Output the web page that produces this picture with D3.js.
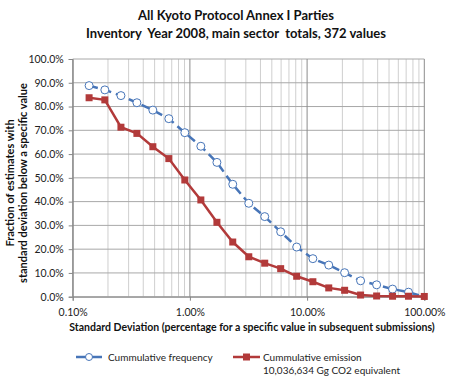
<!DOCTYPE html>
<html>
<head>
<meta charset="utf-8">
<script src="https://cdn.jsdelivr.net/npm/d3@7"></script>
<style>
  body { margin: 0; background: #fff; }
  svg { display: block; font-family: Lato, "Open Sans", sans-serif; }
</style>
</head>
<body>
<svg id="chart" width="471" height="385"></svg>
<script>
// ── data ─────────────────────────────────────────────────────────────────────
const sdValues = [0.138, 0.188, 0.258, 0.353, 0.483, 0.661, 0.905, 1.24, 1.70, 2.32, 3.18,
                  4.35, 5.95, 8.15, 11.2, 15.3, 20.9, 28.6, 39.2, 53.6, 73.3, 100];
const cumFrequency = [88.8, 87.0, 84.6, 81.6, 78.5, 74.9, 69.0, 63.3, 56.5, 47.3, 39.3,
                      33.7, 27.3, 20.9, 16.0, 13.3, 10.1, 6.7, 5.0, 3.2, 1.9, 0];
const cumEmission = [83.7, 82.8, 71.3, 68.7, 63.1, 58.1, 49.1, 40.7, 31.3, 23.0, 16.8,
                     14.1, 11.8, 8.6, 6.3, 3.7, 2.7, 0.7, 0.3, 0.2, 0.2, 0.1];
const xTicks = [0.1, 1, 10, 100];
const yTicks = [0, 10, 20, 30, 40, 50, 60, 70, 80, 90, 100];
const titleLines = ['All Kyoto Protocol Annex I Parties',
                    'Inventory  Year 2008, main sector  totals, 372 values'];
const yTitleLines = ['Fraction of estimates with', 'standard deviation below a specific value'];
const xTitle = 'Standard Deviation (percentage for a specific value in subsequent submissions)';
const seriesNames = ['Cummulative frequency', 'Cummulative emission', '10,036,634 Gg CO2 equivalent'];

// ── layout ───────────────────────────────────────────────────────────────────
const blue = '#4775b8', red = '#b23a3a';
const svg = d3.select('#chart');
const x = d3.scaleLog().domain([0.1, 100]).range([72.7, 424.3]);
const y = d3.scaleLinear().domain([0, 100]).range([296.7, 59]);

// ── grid ─────────────────────────────────────────────────────────────────────
const grid = svg.append('g');
const minorTicks = x.ticks().filter(t => !xTicks.includes(t));
grid.selectAll('.minor').data(minorTicks).join('line')
  .attr('x1', d => x(d)).attr('x2', d => x(d))
  .attr('y1', y(0)).attr('y2', y(100))
  .attr('stroke', '#cfcfcf').attr('stroke-width', 1);
grid.selectAll('.hgrid').data(yTicks).join('line')
  .attr('x1', x(0.1)).attr('x2', x(100))
  .attr('y1', d => y(d)).attr('y2', d => y(d))
  .attr('stroke', '#a8a8a8').attr('stroke-width', 1);
grid.selectAll('.major').data(xTicks).join('line')
  .attr('x1', d => x(d)).attr('x2', d => x(d))
  .attr('y1', y(0)).attr('y2', y(100))
  .attr('stroke', '#8c8c8c').attr('stroke-width', 1);

// ── axes ─────────────────────────────────────────────────────────────────────
const yAxis = svg.append('g')
  .attr('transform', `translate(${x(0.1)},0)`)
  .call(d3.axisLeft(y).tickValues(yTicks).tickSize(4).tickPadding(5)
    .tickFormat(d => d.toFixed(1) + '%'));
const xAxis = svg.append('g')
  .attr('transform', `translate(0,${y(0)})`)
  .call(d3.axisBottom(x).tickValues(xTicks).tickSize(4).tickPadding(8)
    .tickFormat(d => d.toFixed(2) + '%'));
[yAxis, xAxis].forEach(a => {
  a.select('.domain').attr('stroke', '#868686');
  a.selectAll('.tick line').attr('stroke', '#868686');
  a.selectAll('text').attr('font-family', 'Lato, sans-serif')
    .attr('font-size', 10.5).attr('fill', '#222');
});

// ── series ───────────────────────────────────────────────────────────────────
const line = d3.line().x(d => x(d[0])).y(d => y(d[1]));
const freqPts = sdValues.map((v, i) => [v, cumFrequency[i]]);
const emisPts = sdValues.map((v, i) => [v, cumEmission[i]]);

svg.append('path').datum(freqPts).attr('d', line)
  .attr('fill', 'none').attr('stroke', blue).attr('stroke-width', 2.5)
  .attr('stroke-dasharray', '9,5');
svg.append('g').selectAll('circle').data(freqPts.slice(0, -1)).join('circle')
  .attr('cx', d => x(d[0])).attr('cy', d => y(d[1])).attr('r', 4)
  .attr('fill', '#fff').attr('stroke', blue).attr('stroke-width', 1);

svg.append('path').datum(emisPts).attr('d', line)
  .attr('fill', 'none').attr('stroke', red).attr('stroke-width', 2.5);
svg.append('g').selectAll('rect').data(emisPts).join('rect')
  .attr('x', d => x(d[0]) - 3.5).attr('y', d => y(d[1]) - 3.5)
  .attr('width', 7).attr('height', 7).attr('fill', red);

// ── titles ───────────────────────────────────────────────────────────────────
svg.append('g').selectAll('text').data(titleLines).join('text')
  .attr('x', 236).attr('y', (d, i) => 20 + i * 17.5)
  .attr('text-anchor', 'middle').attr('font-weight', 'bold').attr('font-size', 13)
  .style('white-space', 'pre')
  .attr('fill', '#111').text(d => d);

svg.append('g').attr('transform', 'translate(13.5,183) rotate(-90)')
  .selectAll('text').data(yTitleLines).join('text')
  .attr('x', 0).attr('y', (d, i) => i * 13.5)
  .attr('text-anchor', 'middle').attr('font-weight', 'bold').attr('font-size', 11)
  .attr('fill', '#111').text(d => d);

svg.append('text').attr('x', 252).attr('y', 331)
  .attr('text-anchor', 'middle').attr('font-weight', 'bold').attr('font-size', 10.5)
  .attr('fill', '#111').text(xTitle);

// ── legend ───────────────────────────────────────────────────────────────────
const legend = svg.append('g');
legend.append('line').attr('x1', 76).attr('x2', 102).attr('y1', 357).attr('y2', 357)
  .attr('stroke', blue).attr('stroke-width', 2.5);
legend.append('circle').attr('cx', 89).attr('cy', 357).attr('r', 3.5)
  .attr('fill', '#fff').attr('stroke', blue);
legend.append('text').attr('x', 108).attr('y', 360.5).attr('font-size', 10)
  .attr('fill', '#222').text(seriesNames[0]);

legend.append('line').attr('x1', 233).attr('x2', 260).attr('y1', 357).attr('y2', 357)
  .attr('stroke', red).attr('stroke-width', 2.5);
legend.append('rect').attr('x', 243).attr('y', 353.5).attr('width', 7).attr('height', 7)
  .attr('fill', red);
legend.append('text').attr('x', 263).attr('y', 360.5).attr('font-size', 10)
  .attr('fill', '#222').text(seriesNames[1]);
legend.append('text').attr('x', 263).attr('y', 374).attr('font-size', 10)
  .attr('fill', '#222').text(seriesNames[2]);
</script>
</body>
</html>
